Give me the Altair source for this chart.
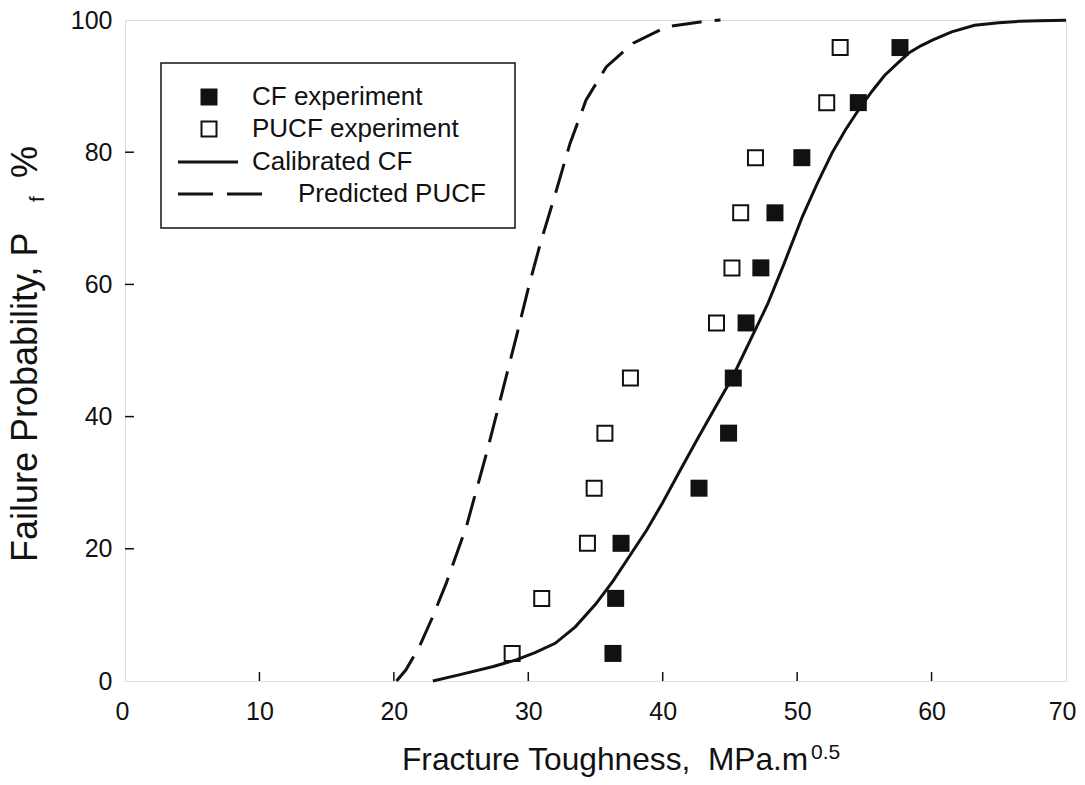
import altair as alt
import pandas as pd

# ---- data ----
p_levels = [4.17, 12.5, 20.83, 29.17, 37.5, 45.83, 54.17, 62.5, 70.83, 79.17, 87.5, 95.83]
cf_exp_x = [36.3, 36.5, 36.9, 42.7, 44.9, 45.25, 46.2, 47.3, 48.35, 50.35, 54.55, 57.65]
pucf_exp_x = [28.8, 31.0, 34.4, 34.9, 35.7, 37.6, 44.0, 45.15, 45.8, 46.9, 52.2, 53.2]

cal_cf_x = [22.9, 25.0, 27.4, 29.1, 30.5, 32.0, 33.5, 35.0, 36.3, 37.5, 38.8, 40.0, 41.2,
            42.5, 43.8, 45.2, 46.5, 47.8, 49.0, 50.4, 51.5, 52.6, 53.6, 54.6, 55.6, 56.5,
            57.5, 58.3, 59.2, 60.1, 61.5, 63.2, 65.0, 66.5, 68.0, 70.0]
cal_cf_y = [0.0, 1.0, 2.2, 3.2, 4.3, 5.7, 8.2, 11.6, 15.1, 18.8, 22.8, 27.0, 31.5,
            36.3, 41.0, 46.0, 51.5, 57.0, 63.0, 70.3, 75.3, 79.9, 83.4, 86.5, 89.3, 91.6,
            93.5, 95.0, 96.1, 97.0, 98.2, 99.2, 99.6, 99.8, 99.9, 99.95]

pred_x = [20.2, 20.9, 21.9, 22.8, 23.9, 25.4, 26.9, 28.1, 29.1, 30.1, 30.9, 32.1, 33.1,
          34.3, 35.8, 37.8, 40.3, 42.8, 44.3]
pred_y = [0.0, 1.7, 5.2, 9.3, 14.8, 23.4, 34.5, 44.0, 52.0, 60.2, 66.2, 74.3, 81.3,
          87.9, 92.9, 96.5, 99.0, 99.7, 100.0]

x_tick_values = [0, 10, 20, 30, 40, 50, 60, 70]
y_tick_values = [0, 20, 40, 60, 80, 100]
x_inner_ticks = [10, 20, 30, 40, 50, 60]
y_inner_ticks = [20, 40, 60, 80]

legend_labels = ["CF experiment", "PUCF experiment", "Calibrated CF", "Predicted PUCF"]

# ---- styling ----
W, H = 941, 661
FONT = "Liberation Sans"
INK = "#111111"

xs = alt.Scale(domain=[0, 70], nice=False, zero=False)
ys = alt.Scale(domain=[0, 100], nice=False, zero=False)
x_axis = alt.Axis(values=x_tick_values, title=None, tickSize=0, domain=False, grid=False,
                  labelFontSize=25, labelPadding=18, labelColor=INK, labelFont=FONT,
                  labelFlush=True, labelFlushOffset=10, format="d")
y_axis = alt.Axis(values=y_tick_values, title=None, tickSize=0, domain=False, grid=False,
                  labelFontSize=25, labelPadding=13, labelColor=INK, labelFont=FONT,
                  format="d")

def X(field):
    return alt.X(f"{field}:Q", scale=xs, axis=x_axis)

def Y(field):
    return alt.Y(f"{field}:Q", scale=ys, axis=y_axis)

one = pd.DataFrame({"a": [0]})

cf_df = pd.DataFrame({"x": cf_exp_x, "y": p_levels})
pucf_df = pd.DataFrame({"x": pucf_exp_x, "y": p_levels})
cal_df = pd.DataFrame({"x": cal_cf_x, "y": cal_cf_y})
pred_df = pd.DataFrame({"x": pred_x, "y": pred_y})

cal_line = alt.Chart(cal_df).mark_line(color=INK, strokeWidth=3).encode(x=X("x"), y=Y("y"))
pred_line = alt.Chart(pred_df).mark_line(color=INK, strokeWidth=3, strokeDash=[30, 13]).encode(
    x=X("x"), y=Y("y"))
cf_pts = alt.Chart(cf_df).mark_point(shape="square", filled=True, size=289, color=INK,
                                     opacity=1).encode(x=X("x"), y=Y("y"))
pucf_pts = alt.Chart(pucf_df).mark_point(shape="square", filled=False, size=225, color=INK,
                                         strokeWidth=2, opacity=1).encode(x=X("x"), y=Y("y"))

xt = alt.Chart(pd.DataFrame({"v": x_inner_ticks})).mark_rule(color=INK, strokeWidth=1.5).encode(
    x=X("v"), y=alt.value(H), y2=alt.value(H - 9))
yt = alt.Chart(pd.DataFrame({"v": y_inner_ticks})).mark_rule(color=INK, strokeWidth=1.5).encode(
    y=Y("v"), x=alt.value(0), x2=alt.value(9))

# ---- legend (drawn by hand) ----
leg_box = alt.Chart(one).mark_rect(fill="white", stroke=INK, strokeWidth=1.5).encode(
    x=alt.value(36), x2=alt.value(390), y=alt.value(43), y2=alt.value(208))
leg_rows = [77, 109, 142, 174]
leg_sq1 = alt.Chart(one).mark_point(shape="square", filled=True, size=289, color=INK,
                                    opacity=1).encode(x=alt.value(84), y=alt.value(leg_rows[0]))
leg_sq2 = alt.Chart(one).mark_point(shape="square", filled=False, size=225, color=INK,
                                    strokeWidth=2, opacity=1).encode(x=alt.value(84), y=alt.value(leg_rows[1]))
leg_l1 = alt.Chart(one).mark_rule(color=INK, strokeWidth=3).encode(
    x=alt.value(53), x2=alt.value(113), y=alt.value(leg_rows[2]))
leg_l2 = alt.Chart(one).mark_rule(color=INK, strokeWidth=3, strokeDash=[35, 14]).encode(
    x=alt.value(53), x2=alt.value(138), y=alt.value(leg_rows[3]))
leg_text = []
for lab, row, tx in zip(legend_labels, leg_rows, [127, 127, 127, 173]):
    leg_text.append(alt.Chart(one).mark_text(text=lab, align="left", baseline="middle",
                                             fontSize=26, font=FONT, color=INK).encode(
        x=alt.value(tx), y=alt.value(row)))

# ---- axis titles (with sub/superscripts) ----
xt_main = alt.Chart(one).mark_text(text="Fracture Toughness,\u00a0 MPa.m", align="left",
                                   baseline="alphabetic", fontSize=31.7, font=FONT,
                                   color=INK).encode(x=alt.value(277), y=alt.value(750))
xt_sup = alt.Chart(one).mark_text(text="0.5", align="left", baseline="alphabetic",
                                  fontSize=21, font=FONT, color=INK).encode(
    x=alt.value(686), y=alt.value(739))
yt_main = alt.Chart(one).mark_text(text="Failure Probability, P", align="left",
                                   baseline="alphabetic", angle=270, fontSize=36, font=FONT,
                                   color=INK).encode(x=alt.value(-88), y=alt.value(542))
yt_sub = alt.Chart(one).mark_text(text="f", align="left", baseline="alphabetic", angle=270,
                                  fontSize=21, font=FONT, color=INK).encode(
    x=alt.value(-81), y=alt.value(182))
yt_pct = alt.Chart(one).mark_text(text="%", align="left", baseline="alphabetic", angle=270,
                                  fontSize=36, font=FONT, color=INK).encode(
    x=alt.value(-88), y=alt.value(158))

chart = alt.layer(
    xt, yt, cal_line, pred_line, cf_pts, pucf_pts,
    leg_box, leg_sq1, leg_sq2, leg_l1, leg_l2, *leg_text,
    xt_main, xt_sup, yt_main, yt_sub, yt_pct,
).properties(
    width=W, height=H,
    autosize=alt.AutoSizeParams(type="none"),
    padding={"left": 117, "top": 12, "right": 11, "bottom": 96},
).configure_view(
    stroke="#222222", strokeWidth=1.5
).configure(background="white")

chart.save("out.html", embed_options={"renderer": "svg", "actions": False})
